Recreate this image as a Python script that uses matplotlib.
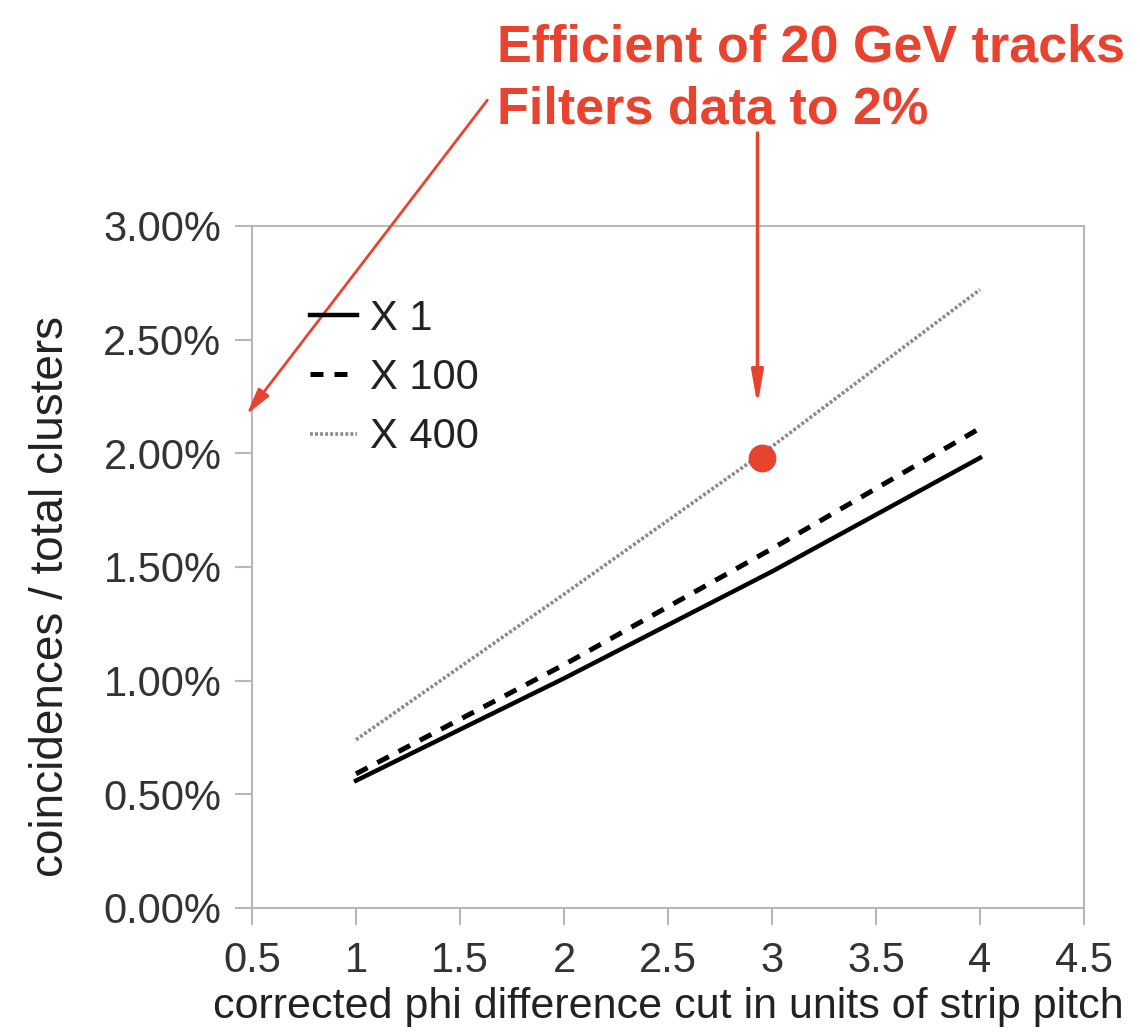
import numpy as np
import matplotlib
matplotlib.use('Agg')
import matplotlib.pyplot as plt
from matplotlib.ticker import PercentFormatter, FuncFormatter

# data (values in percent)
cut = [1, 2, 3, 4]
x1 = [0.56, 1.01, 1.48, 1.98]
x100 = [0.59, 1.07, 1.58, 2.11]
x400 = [0.74, 1.38, 2.03, 2.72]
labels = ['X 1', 'X 100', 'X 400']
dot_x, dot_y = 2.95, 1.98

RED = '#e8432f'
plt.rcParams['font.family'] = ['Liberation Sans', 'DejaVu Sans']

fig = plt.figure(figsize=(11.4, 10.34), dpi=100)
ax = fig.add_axes([0.2211, 0.1219, 0.7298, 0.6596])

ax.plot(cut, x1, color='black', lw=3.2, label=labels[0])
ax.plot(cut, x100, color='black', lw=3.6, ls=(0, (2.6, 2.2)), label=labels[1])
ax.plot(cut, x400, color='#8a8a8a', lw=2.6, ls=(0, (0.8, 0.6)), label=labels[2])
ax.plot([dot_x], [dot_y], 'o', color=RED, ms=19, zorder=5)

ax.set_xlim(0.5, 4.5)
ax.set_ylim(0, 3)
ax.set_xticks(np.arange(0.5, 4.51, 0.5))
ax.set_yticks(np.arange(0, 3.01, 0.5))
ax.xaxis.set_major_formatter(FuncFormatter(lambda v, p: '%g' % v))
ax.yaxis.set_major_formatter(PercentFormatter(xmax=100, decimals=2))
for s in ax.spines.values():
    s.set_color('#b8b8b8')
    s.set_linewidth(1.5)
ax.tick_params(axis='both', colors='#b8b8b8', labelcolor='#333333', labelsize=30,
               length=12, width=1.5, direction='out')
ax.tick_params(axis='x', pad=12)
ax.tick_params(axis='y', pad=10)

ax.set_xlabel('corrected phi difference cut in units of strip pitch', fontsize=31,
              color='#222222', labelpad=4)
ax.set_ylabel('coincidences / total clusters', fontsize=33, color='#222222')
ax.yaxis.set_label_coords(-0.215, 0.456)

leg = ax.legend(loc='upper left', bbox_to_anchor=(0.07, 0.893), frameon=False, fontsize=30,
                handlelength=1.13, handletextpad=0.3, labelspacing=0.46, borderaxespad=0,
                borderpad=0)
for t in leg.get_texts():
    t.set_color('#222222')

# overlay annotations
fig.text(497 / 1140, 1 - 61 / 1034, 'Efficient of 20 GeV tracks', color=RED,
         fontsize=37.5, fontweight='bold', ha='left', va='baseline')
fig.text(497 / 1140, 1 - 124 / 1034, 'Filters data to 2%', color=RED,
         fontsize=37.5, fontweight='bold', ha='left', va='baseline')

ax.annotate('', xy=(0.465, 2.16), xycoords='data',
            xytext=(489 / 1140, 1 - 98 / 1034), textcoords='figure fraction',
            arrowprops=dict(arrowstyle='-|>,head_length=1.6,head_width=0.4',
                            color=RED, lw=2), annotation_clip=False)
ax.annotate('', xy=(2.93, 2.21), xycoords='data',
            xytext=(2.93, 1 - 133 / 1034), textcoords=('data', 'figure fraction'),
            arrowprops=dict(arrowstyle='-|>,head_length=2.0,head_width=0.35',
                            color=RED, lw=2.5, shrinkA=0, shrinkB=0), annotation_clip=False)

fig.savefig('out.png', dpi=100)
